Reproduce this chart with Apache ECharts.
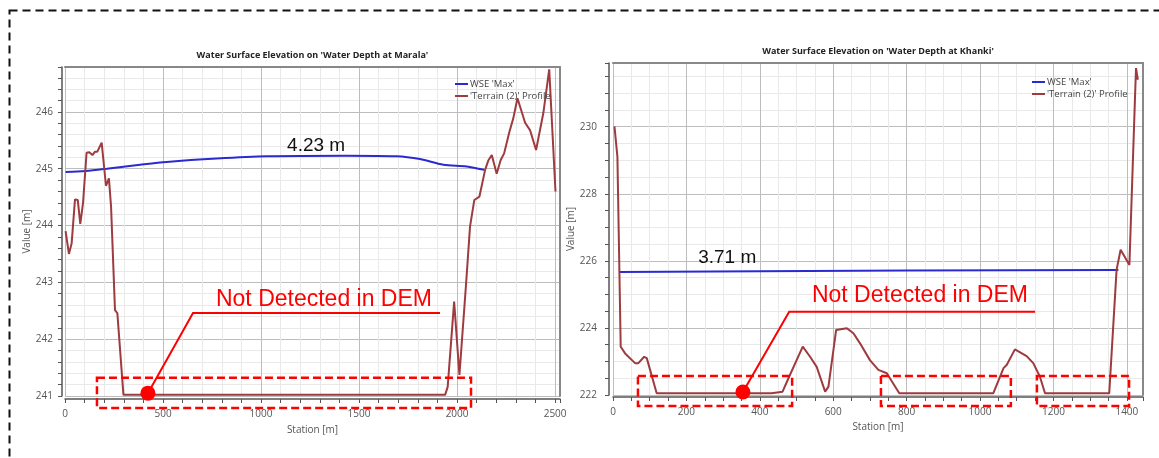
<!DOCTYPE html>
<html>
<head>
<meta charset="utf-8">
<title>Water Surface Elevation - Marala / Khanki</title>
<script src="https://cdn.jsdelivr.net/npm/echarts@6/dist/echarts.min.js"></script>
<style>
  html, body { margin: 0; padding: 0; background: #fff; }
  #main { width: 1159px; height: 458px; }
</style>
</head>
<body>
<div id="main"></div>
<script>
// ---- data (station [m], elevation [m]) ----
var seriesNames = ["WSE 'Max'", "'Terrain (2)' Profile"];
var chartTitles = ["Water Surface Elevation on 'Water Depth at Marala'", "Water Surface Elevation on 'Water Depth at Khanki'"];
var depthLabels = ['4.23 m', '3.71 m'];
var calloutText = 'Not Detected in DEM';

// Marala
var maralaTerrainStation = [3, 20, 34, 51, 65, 78, 92, 110, 124, 140, 153, 165, 187, 209, 224, 235, 255, 267, 298,
  1939, 1952, 1985, 2012, 2046, 2066, 2088, 2114, 2143, 2160, 2177, 2202, 2222, 2240, 2267, 2287, 2308, 2347, 2372,
  2403, 2440, 2470, 2502];
var maralaTerrainElev = [243.90, 243.50, 243.69, 244.46, 244.45, 244.03, 244.40, 245.28, 245.29, 245.24, 245.30, 245.30,
  245.46, 244.70, 244.83, 244.33, 242.51, 242.46, 241.02, 241.02, 241.16, 242.66, 241.37, 242.98, 243.98, 244.45,
  244.51, 244.98, 245.15, 245.24, 244.91, 245.15, 245.27, 245.65, 245.89, 246.24, 245.81, 245.68, 245.33, 245.98,
  246.75, 244.60];
var maralaWseStation = [3, 105, 213, 383, 519, 774, 1029, 1437, 1692, 1811, 1930, 2049, 2138];
var maralaWseElev = [244.94, 244.96, 245.00, 245.07, 245.12, 245.18, 245.22, 245.23, 245.22, 245.17, 245.07, 245.04, 244.98];
var maralaXLabels = [0, 500, 1000, 1500, 2000, 2500];
var maralaYLabels = [241, 242, 243, 244, 245, 246];

// Khanki
var khankiTerrainStation = [4, 12, 21, 33, 60, 69, 85, 92, 119, 432, 462, 478, 517, 537, 555, 578, 587, 608, 637, 655,
  673, 700, 723, 746, 780, 1036, 1064, 1073, 1095, 1127, 1145, 1163, 1177, 1352, 1372, 1383, 1407, 1422, 1425, 1430];
var khankiTerrainElev = [230.01, 229.11, 223.44, 223.24, 222.95, 222.95, 223.14, 223.10, 222.05, 222.05, 222.10, 222.50,
  223.44, 223.14, 222.84, 222.10, 222.25, 223.94, 223.99, 223.84, 223.54, 223.04, 222.75, 222.65, 222.05, 222.05,
  222.80, 222.90, 223.36, 223.16, 222.95, 222.55, 222.05, 222.05, 225.73, 226.33, 225.88, 230.80, 231.75, 231.40];
var khankiWseStation = [16, 400, 800, 1377];
var khankiWseElev = [225.67, 225.69, 225.71, 225.73];
var khankiXLabels = [0, 200, 400, 600, 800, 1000, 1200, 1400];
var khankiYLabels = [222, 224, 226, 228, 230];

function pairs(xs, ys) {
  return xs.map(function (x, i) { return [x, ys[i]]; });
}

var TERRAIN = '#9e3b3f', WSE = '#2a2ad2', RED = '#ff0000';
var FONT = 'Open Sans';

// major grid line every n-th minor one
function gridColors(n) {
  var c = ['#bdbdbd'];
  for (var i = 1; i < n; i++) c.push('#e9e9e9');
  return c;
}

function valueAxis(o) {
  return {
    type: 'value', gridIndex: o.grid, min: o.min, max: o.max, interval: o.step,
    offset: o.offset,
    name: o.name, nameLocation: 'middle', nameGap: o.nameGap,
    nameTextStyle: { fontFamily: FONT, fontSize: 10, color: '#555' },
    axisLine: { show: true, onZero: false, lineStyle: { color: '#555', width: 1.5 } },
    axisTick: { show: true, length: 4, lineStyle: { color: '#555' } },
    axisLabel: {
      margin: o.margin, fontFamily: FONT, fontSize: 10, color: '#555',
      formatter: function (v) {
        var hit = o.labels.some(function (l) { return Math.abs(l - v) < 1e-6; });
        return hit ? String(Math.round(v)) : '';
      }
    },
    splitLine: { show: true, lineStyle: { color: gridColors(o.every), width: 1 } }
  };
}

function borderAxis(grid, pos) {
  return {
    type: 'value', gridIndex: grid, position: pos, min: 0, max: 1,
    axisLine: { show: true, onZero: false, lineStyle: { color: '#888', width: 2 } },
    axisTick: { show: false }, axisLabel: { show: false }, splitLine: { show: false }
  };
}

function legendAt(left, top) {
  return {
    orient: 'vertical', left: left, top: top, padding: 0, itemGap: 2,
    itemWidth: 13, itemHeight: 2, icon: 'rect', selectedMode: false,
    textStyle: { fontFamily: FONT, fontSize: 9.5, color: '#444', padding: [0, 0, 0, -3] },
    data: seriesNames
  };
}

var chart = echarts.init(document.getElementById('main'));

var option = {
  animation: false,
  backgroundColor: '#fff',
  legend: [legendAt(455, 79), legendAt(1032, 77)],
  grid: [
    { left: 65, right: 599, top: 67, bottom: 62 },
    { left: 613, right: 16, top: 63, bottom: 63 }
  ],
  xAxis: [
    valueAxis({ grid: 0, min: 0, max: 2525, step: 100, every: 5, offset: 3, labels: maralaXLabels,
      name: 'Station [m]', nameGap: 26, margin: 10 }),
    valueAxis({ grid: 1, min: 0, max: 1444, step: 50, every: 4, offset: 2, labels: khankiXLabels,
      name: 'Station [m]', nameGap: 24, margin: 10 }),
    borderAxis(0, 'top'),
    borderAxis(1, 'top')
  ],
  yAxis: [
    valueAxis({ grid: 0, min: 241, max: 246.79, step: 0.2, every: 5, offset: 3, labels: maralaYLabels,
      name: 'Value [m]', nameGap: 27, margin: 9 }),
    valueAxis({ grid: 1, min: 222, max: 231.9, step: 0.5, every: 4, offset: 4, labels: khankiYLabels,
      name: 'Value [m]', nameGap: 30, margin: 12 }),
    borderAxis(0, 'right'),
    borderAxis(1, 'right')
  ],
  series: [
    { name: seriesNames[1], type: 'line', xAxisIndex: 0, yAxisIndex: 0, symbol: 'none',
      data: pairs(maralaTerrainStation, maralaTerrainElev),
      lineStyle: { color: TERRAIN, width: 2 }, itemStyle: { color: TERRAIN }, z: 3 },
    { name: seriesNames[0], type: 'line', xAxisIndex: 0, yAxisIndex: 0, symbol: 'none', smooth: 0.3,
      data: pairs(maralaWseStation, maralaWseElev),
      lineStyle: { color: WSE, width: 2 }, itemStyle: { color: WSE }, z: 2 },
    { name: seriesNames[1], type: 'line', xAxisIndex: 1, yAxisIndex: 1, symbol: 'none',
      data: pairs(khankiTerrainStation, khankiTerrainElev),
      lineStyle: { color: TERRAIN, width: 2 }, itemStyle: { color: TERRAIN }, z: 3 },
    { name: seriesNames[0], type: 'line', xAxisIndex: 1, yAxisIndex: 1, symbol: 'none',
      data: pairs(khankiWseStation, khankiWseElev),
      lineStyle: { color: WSE, width: 2 }, itemStyle: { color: WSE }, z: 2 }
  ]
};
chart.setOption(option);

// ---- annotations, placed through the chart's own coordinate conversion ----
function px(seriesIndex, st, el) {
  return chart.convertToPixel({ seriesIndex: seriesIndex }, [st, el]);
}

function text(str, x, y, size, color, weight, family) {
  return {
    type: 'text', z: 20,
    style: {
      text: str, x: x, y: y, fill: color,
      fontSize: size, fontWeight: weight || 'normal', fontFamily: family || 'Liberation Sans',
      align: 'left', textAlign: 'left', verticalAlign: 'middle', textVerticalAlign: 'middle'
    }
  };
}

function dashedBox(si, s0, s1, e0, e1) {
  var a = px(si, s0, e0), b = px(si, s1, e1);
  return {
    type: 'rect', z: 20,
    shape: { x: a[0], y: a[1], width: b[0] - a[0], height: b[1] - a[1] },
    style: { fill: 'none', stroke: RED, lineWidth: 2.5, lineDash: [8, 4] }
  };
}

function callout(si, dot, elbow, endSt, textAt) {
  var d = px(si, dot[0], dot[1]), e = px(si, elbow[0], elbow[1]), f = px(si, endSt, elbow[1]);
  var t = px(si, textAt[0], textAt[1]);
  return [
    { type: 'polyline', z: 21, shape: { points: [d, e, f] }, style: { fill: 'none', stroke: RED, lineWidth: 2 } },
    { type: 'circle', z: 22, shape: { cx: d[0], cy: d[1], r: 7.5 }, style: { fill: RED } },
    text(calloutText, t[0], t[1], 23, RED)
  ];
}

var graphics = [
  { type: 'rect', z: 30, silent: true,
    shape: { x: 9.5, y: 10.5, width: 1300, height: 600 },
    style: { fill: 'none', stroke: '#111', lineWidth: 2, lineDash: [8, 5] } }
];

// titles centred over each plot
var t0 = px(0, 1262, 246.79), t1 = px(2, 722, 231.9);
[[chartTitles[0], t0[0], t0[1] - 12], [chartTitles[1], t1[0], t1[1] - 12]].forEach(function (t) {
  var g = text(t[0], t[1], t[2], 9, '#222', 'bold', FONT);
  g.style.align = 'center'; g.style.textAlign = 'center';
  graphics.push(g);
});

// depth labels
var d0 = px(0, 1133, 245.40), d1 = px(2, 232, 226.10);
graphics.push(text(depthLabels[0], d0[0], d0[1], 19, '#111'));
graphics.push(text(depthLabels[1], d1[0], d1[1], 19, '#111'));

// Marala callout and box
graphics.push(dashedBox(0, 163, 2071, 241.32, 240.79));
graphics = graphics.concat(callout(0, [423, 241.05], [653, 242.46], 1913, [770, 242.70]));

// Khanki callout and boxes
graphics.push(dashedBox(2, 68, 488, 222.57, 221.67));
graphics.push(dashedBox(2, 730, 1084, 222.57, 221.67));
graphics.push(dashedBox(2, 1155, 1406, 222.57, 221.67));
graphics = graphics.concat(callout(2, [354, 222.09], [480, 224.48], 1150, [542, 224.96]));

chart.setOption({ graphic: graphics });
</script>
</body>
</html>
